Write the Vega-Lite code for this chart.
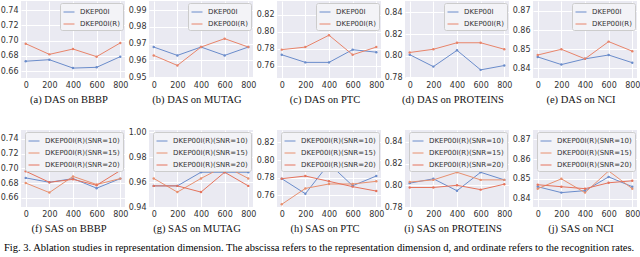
{
  "$schema": "https://vega.github.io/schema/vega-lite/v6.json",
  "padding": {"left": 0, "top": 1, "right": 0, "bottom": 0},
  "background": "white",
  "data": {"values": [
    {"p":"a","s":"DKEP00I","d":0,"v":0.673},{"p":"a","s":"DKEP00I","d":200,"v":0.675},{"p":"a","s":"DKEP00I","d":400,"v":0.664},{"p":"a","s":"DKEP00I","d":600,"v":0.665},{"p":"a","s":"DKEP00I","d":800,"v":0.679},
    {"p":"a","s":"DKEP00I(R)","d":0,"v":0.696},{"p":"a","s":"DKEP00I(R)","d":200,"v":0.682},{"p":"a","s":"DKEP00I(R)","d":400,"v":0.689},{"p":"a","s":"DKEP00I(R)","d":600,"v":0.679},{"p":"a","s":"DKEP00I(R)","d":800,"v":0.697},
    {"p":"b","s":"DKEP00I","d":0,"v":0.968},{"p":"b","s":"DKEP00I","d":200,"v":0.963},{"p":"b","s":"DKEP00I","d":400,"v":0.968},{"p":"b","s":"DKEP00I","d":600,"v":0.963},{"p":"b","s":"DKEP00I","d":800,"v":0.968},
    {"p":"b","s":"DKEP00I(R)","d":0,"v":0.963},{"p":"b","s":"DKEP00I(R)","d":200,"v":0.957},{"p":"b","s":"DKEP00I(R)","d":400,"v":0.968},{"p":"b","s":"DKEP00I(R)","d":600,"v":0.973},{"p":"b","s":"DKEP00I(R)","d":800,"v":0.968},
    {"p":"c","s":"DKEP00I","d":0,"v":0.773},{"p":"c","s":"DKEP00I","d":200,"v":0.764},{"p":"c","s":"DKEP00I","d":400,"v":0.764},{"p":"c","s":"DKEP00I","d":600,"v":0.779},{"p":"c","s":"DKEP00I","d":800,"v":0.776},
    {"p":"c","s":"DKEP00I(R)","d":0,"v":0.779},{"p":"c","s":"DKEP00I(R)","d":200,"v":0.782},{"p":"c","s":"DKEP00I(R)","d":400,"v":0.796},{"p":"c","s":"DKEP00I(R)","d":600,"v":0.773},{"p":"c","s":"DKEP00I(R)","d":800,"v":0.782},
    {"p":"d","s":"DKEP00I","d":0,"v":0.801},{"p":"d","s":"DKEP00I","d":200,"v":0.790},{"p":"d","s":"DKEP00I","d":400,"v":0.805},{"p":"d","s":"DKEP00I","d":600,"v":0.787},{"p":"d","s":"DKEP00I","d":800,"v":0.791},
    {"p":"d","s":"DKEP00I(R)","d":0,"v":0.803},{"p":"d","s":"DKEP00I(R)","d":200,"v":0.806},{"p":"d","s":"DKEP00I(R)","d":400,"v":0.812},{"p":"d","s":"DKEP00I(R)","d":600,"v":0.812},{"p":"d","s":"DKEP00I(R)","d":800,"v":0.806},
    {"p":"e","s":"DKEP00I","d":0,"v":0.846},{"p":"e","s":"DKEP00I","d":200,"v":0.842},{"p":"e","s":"DKEP00I","d":400,"v":0.845},{"p":"e","s":"DKEP00I","d":600,"v":0.847},{"p":"e","s":"DKEP00I","d":800,"v":0.843},
    {"p":"e","s":"DKEP00I(R)","d":0,"v":0.847},{"p":"e","s":"DKEP00I(R)","d":200,"v":0.850},{"p":"e","s":"DKEP00I(R)","d":400,"v":0.845},{"p":"e","s":"DKEP00I(R)","d":600,"v":0.854},{"p":"e","s":"DKEP00I(R)","d":800,"v":0.849},
    {"p":"f","s":"DKEP00I(R)(SNR=10)","d":0,"v":0.687},{"p":"f","s":"DKEP00I(R)(SNR=10)","d":200,"v":0.681},{"p":"f","s":"DKEP00I(R)(SNR=10)","d":400,"v":0.686},{"p":"f","s":"DKEP00I(R)(SNR=10)","d":600,"v":0.673},{"p":"f","s":"DKEP00I(R)(SNR=10)","d":800,"v":0.686},
    {"p":"f","s":"DKEP00I(R)(SNR=15)","d":0,"v":0.680},{"p":"f","s":"DKEP00I(R)(SNR=15)","d":200,"v":0.667},{"p":"f","s":"DKEP00I(R)(SNR=15)","d":400,"v":0.689},{"p":"f","s":"DKEP00I(R)(SNR=15)","d":600,"v":0.678},{"p":"f","s":"DKEP00I(R)(SNR=15)","d":800,"v":0.686},
    {"p":"f","s":"DKEP00I(R)(SNR=20)","d":0,"v":0.696},{"p":"f","s":"DKEP00I(R)(SNR=20)","d":200,"v":0.681},{"p":"f","s":"DKEP00I(R)(SNR=20)","d":400,"v":0.685},{"p":"f","s":"DKEP00I(R)(SNR=20)","d":600,"v":0.677},{"p":"f","s":"DKEP00I(R)(SNR=20)","d":800,"v":0.697},
    {"p":"g","s":"DKEP00I(R)(SNR=10)","d":0,"v":0.957},{"p":"g","s":"DKEP00I(R)(SNR=10)","d":200,"v":0.957},{"p":"g","s":"DKEP00I(R)(SNR=10)","d":400,"v":0.968},{"p":"g","s":"DKEP00I(R)(SNR=10)","d":600,"v":0.968},{"p":"g","s":"DKEP00I(R)(SNR=10)","d":800,"v":0.968},
    {"p":"g","s":"DKEP00I(R)(SNR=15)","d":0,"v":0.963},{"p":"g","s":"DKEP00I(R)(SNR=15)","d":200,"v":0.952},{"p":"g","s":"DKEP00I(R)(SNR=15)","d":400,"v":0.963},{"p":"g","s":"DKEP00I(R)(SNR=15)","d":600,"v":0.973},{"p":"g","s":"DKEP00I(R)(SNR=15)","d":800,"v":0.963},
    {"p":"g","s":"DKEP00I(R)(SNR=20)","d":0,"v":0.957},{"p":"g","s":"DKEP00I(R)(SNR=20)","d":200,"v":0.957},{"p":"g","s":"DKEP00I(R)(SNR=20)","d":400,"v":0.952},{"p":"g","s":"DKEP00I(R)(SNR=20)","d":600,"v":0.968},{"p":"g","s":"DKEP00I(R)(SNR=20)","d":800,"v":0.957},
    {"p":"h","s":"DKEP00I(R)(SNR=10)","d":0,"v":0.779},{"p":"h","s":"DKEP00I(R)(SNR=10)","d":200,"v":0.762},{"p":"h","s":"DKEP00I(R)(SNR=10)","d":400,"v":0.796},{"p":"h","s":"DKEP00I(R)(SNR=10)","d":600,"v":0.771},{"p":"h","s":"DKEP00I(R)(SNR=10)","d":800,"v":0.782},
    {"p":"h","s":"DKEP00I(R)(SNR=15)","d":0,"v":0.750},{"p":"h","s":"DKEP00I(R)(SNR=15)","d":200,"v":0.768},{"p":"h","s":"DKEP00I(R)(SNR=15)","d":400,"v":0.773},{"p":"h","s":"DKEP00I(R)(SNR=15)","d":600,"v":0.773},{"p":"h","s":"DKEP00I(R)(SNR=15)","d":800,"v":0.776},
    {"p":"h","s":"DKEP00I(R)(SNR=20)","d":0,"v":0.779},{"p":"h","s":"DKEP00I(R)(SNR=20)","d":200,"v":0.782},{"p":"h","s":"DKEP00I(R)(SNR=20)","d":400,"v":0.776},{"p":"h","s":"DKEP00I(R)(SNR=20)","d":600,"v":0.770},{"p":"h","s":"DKEP00I(R)(SNR=20)","d":800,"v":0.765},
    {"p":"i","s":"DKEP00I(R)(SNR=10)","d":0,"v":0.802},{"p":"i","s":"DKEP00I(R)(SNR=10)","d":200,"v":0.806},{"p":"i","s":"DKEP00I(R)(SNR=10)","d":400,"v":0.795},{"p":"i","s":"DKEP00I(R)(SNR=10)","d":600,"v":0.812},{"p":"i","s":"DKEP00I(R)(SNR=10)","d":800,"v":0.805},
    {"p":"i","s":"DKEP00I(R)(SNR=15)","d":0,"v":0.803},{"p":"i","s":"DKEP00I(R)(SNR=15)","d":200,"v":0.805},{"p":"i","s":"DKEP00I(R)(SNR=15)","d":400,"v":0.812},{"p":"i","s":"DKEP00I(R)(SNR=15)","d":600,"v":0.805},{"p":"i","s":"DKEP00I(R)(SNR=15)","d":800,"v":0.805},
    {"p":"i","s":"DKEP00I(R)(SNR=20)","d":0,"v":0.798},{"p":"i","s":"DKEP00I(R)(SNR=20)","d":200,"v":0.798},{"p":"i","s":"DKEP00I(R)(SNR=20)","d":400,"v":0.800},{"p":"i","s":"DKEP00I(R)(SNR=20)","d":600,"v":0.796},{"p":"i","s":"DKEP00I(R)(SNR=20)","d":800,"v":0.801},
    {"p":"j","s":"DKEP00I(R)(SNR=10)","d":0,"v":0.846},{"p":"j","s":"DKEP00I(R)(SNR=10)","d":200,"v":0.843},{"p":"j","s":"DKEP00I(R)(SNR=10)","d":400,"v":0.844},{"p":"j","s":"DKEP00I(R)(SNR=10)","d":600,"v":0.851},{"p":"j","s":"DKEP00I(R)(SNR=10)","d":800,"v":0.846},
    {"p":"j","s":"DKEP00I(R)(SNR=15)","d":0,"v":0.845},{"p":"j","s":"DKEP00I(R)(SNR=15)","d":200,"v":0.850},{"p":"j","s":"DKEP00I(R)(SNR=15)","d":400,"v":0.843},{"p":"j","s":"DKEP00I(R)(SNR=15)","d":600,"v":0.854},{"p":"j","s":"DKEP00I(R)(SNR=15)","d":800,"v":0.845},
    {"p":"j","s":"DKEP00I(R)(SNR=20)","d":0,"v":0.847},{"p":"j","s":"DKEP00I(R)(SNR=20)","d":200,"v":0.846},{"p":"j","s":"DKEP00I(R)(SNR=20)","d":400,"v":0.845},{"p":"j","s":"DKEP00I(R)(SNR=20)","d":600,"v":0.848},{"p":"j","s":"DKEP00I(R)(SNR=20)","d":800,"v":0.849}
  ]},
  "title": {"text": "Fig. 3.   Ablation studies in representation dimension. The abscissa refers to the representation dimension d, and ordinate refers to the recognition rates.", "orient": "bottom", "anchor": "start", "frame": "bounds", "font": "Liberation Serif", "fontSize": 10.5, "fontWeight": "normal", "color": "black", "offset": 8, "dx": 4},
  "bounds": "full",
  "spacing": 22,
  "resolve": {"scale": {"color": "independent", "y": "independent", "x": "independent"}, "legend": {"color": "independent"}},
  "vconcat": [
    {
      "bounds": "flush",
      "spacing": 24,
      "resolve": {"scale": {"color": "independent", "y": "independent", "x": "independent"}, "legend": {"color": "independent"}},
      "hconcat": [
        {"width": 104, "height": 77, "title": {"text": "(a) DAS on BBBP"}, "transform": [{"filter": "datum.p == 'a'"}],
         "mark": {"type": "line", "strokeWidth": 1, "point": {"filled": true, "size": 6}},
         "encoding": {
           "x": {"field": "d", "type": "quantitative", "scale": {"domain": [-40, 840], "nice": false, "zero": false}, "axis": {"values": [0,200,400,600,800], "title": null}},
           "y": {"field": "v", "type": "quantitative", "scale": {"domain": [0.651, 0.752], "nice": false, "zero": false}, "axis": {"values": [0.66,0.68,0.70,0.72,0.74], "format": ".2f", "title": null}},
           "color": {"field": "s", "type": "nominal", "scale": {"domain": ["DKEP00I","DKEP00I(R)"], "range": ["#6A8CCB","#E8846A"]}, "legend": {"title": null}}
         }},
        {"width": 104, "height": 77, "title": {"text": "(b) DAS on MUTAG"}, "transform": [{"filter": "datum.p == 'b'"}],
         "mark": {"type": "line", "strokeWidth": 1, "point": {"filled": true, "size": 6}},
         "encoding": {
           "x": {"field": "d", "type": "quantitative", "scale": {"domain": [-40, 840], "nice": false, "zero": false}, "axis": {"values": [0,200,400,600,800], "title": null}},
           "y": {"field": "v", "type": "quantitative", "scale": {"domain": [0.9495, 0.9955], "nice": false, "zero": false}, "axis": {"values": [0.95,0.96,0.97,0.98,0.99], "format": ".2f", "title": null}},
           "color": {"field": "s", "type": "nominal", "scale": {"domain": ["DKEP00I","DKEP00I(R)"], "range": ["#6A8CCB","#E8846A"]}, "legend": {"title": null}}
         }},
        {"width": 104, "height": 77, "title": {"text": "(c) DAS on PTC"}, "transform": [{"filter": "datum.p == 'c'"}],
         "mark": {"type": "line", "strokeWidth": 1, "point": {"filled": true, "size": 6}},
         "encoding": {
           "x": {"field": "d", "type": "quantitative", "scale": {"domain": [-40, 840], "nice": false, "zero": false}, "axis": {"values": [0,200,400,600,800], "title": null}},
           "y": {"field": "v", "type": "quantitative", "scale": {"domain": [0.7456, 0.8363], "nice": false, "zero": false}, "axis": {"values": [0.76,0.78,0.80,0.82], "format": ".2f", "title": null}},
           "color": {"field": "s", "type": "nominal", "scale": {"domain": ["DKEP00I","DKEP00I(R)"], "range": ["#6A8CCB","#E8846A"]}, "legend": {"title": null}}
         }},
        {"width": 104, "height": 77, "title": {"text": "(d) DAS on PROTEINS"}, "transform": [{"filter": "datum.p == 'd'"}],
         "mark": {"type": "line", "strokeWidth": 1, "point": {"filled": true, "size": 6}},
         "encoding": {
           "x": {"field": "d", "type": "quantitative", "scale": {"domain": [-40, 840], "nice": false, "zero": false}, "axis": {"values": [0,200,400,600,800], "title": null}},
           "y": {"field": "v", "type": "quantitative", "scale": {"domain": [0.7795, 0.8505], "nice": false, "zero": false}, "axis": {"values": [0.78,0.80,0.82,0.84], "format": ".2f", "title": null}},
           "color": {"field": "s", "type": "nominal", "scale": {"domain": ["DKEP00I","DKEP00I(R)"], "range": ["#6A8CCB","#E8846A"]}, "legend": {"title": null}}
         }},
        {"width": 104, "height": 77, "title": {"text": "(e) DAS on NCI"}, "transform": [{"filter": "datum.p == 'e'"}],
         "mark": {"type": "line", "strokeWidth": 1, "point": {"filled": true, "size": 6}},
         "encoding": {
           "x": {"field": "d", "type": "quantitative", "scale": {"domain": [-40, 840], "nice": false, "zero": false}, "axis": {"values": [0,200,400,600,800], "title": null}},
           "y": {"field": "v", "type": "quantitative", "scale": {"domain": [0.835, 0.8752], "nice": false, "zero": false}, "axis": {"values": [0.84,0.85,0.86,0.87], "format": ".2f", "title": null}},
           "color": {"field": "s", "type": "nominal", "scale": {"domain": ["DKEP00I","DKEP00I(R)"], "range": ["#6A8CCB","#E8846A"]}, "legend": {"title": null}}
         }}
      ]
    },
    {
      "bounds": "flush",
      "spacing": 24,
      "resolve": {"scale": {"color": "independent", "y": "independent", "x": "independent"}, "legend": {"color": "independent"}},
      "hconcat": [
        {"width": 104, "height": 77, "title": {"text": "(f) SAS on BBBP"}, "transform": [{"filter": "datum.p == 'f'"}],
         "mark": {"type": "line", "strokeWidth": 1, "point": {"filled": true, "size": 6}},
         "encoding": {
           "x": {"field": "d", "type": "quantitative", "scale": {"domain": [-40, 840], "nice": false, "zero": false}, "axis": {"values": [0,200,400,600,800], "title": null}},
           "y": {"field": "v", "type": "quantitative", "scale": {"domain": [0.6474, 0.7521], "nice": false, "zero": false}, "axis": {"values": [0.66,0.68,0.70,0.72,0.74], "format": ".2f", "title": null}},
           "color": {"field": "s", "type": "nominal", "scale": {"domain": ["DKEP00I(R)(SNR=10)","DKEP00I(R)(SNR=15)","DKEP00I(R)(SNR=20)"], "range": ["#6A8CCB","#E8906F","#E5735C"]}, "legend": {"title": null}}
         }},
        {"width": 104, "height": 77, "title": {"text": "(g) SAS on MUTAG"}, "transform": [{"filter": "datum.p == 'g'"}],
         "mark": {"type": "line", "strokeWidth": 1, "point": {"filled": true, "size": 6}},
         "encoding": {
           "x": {"field": "d", "type": "quantitative", "scale": {"domain": [-40, 840], "nice": false, "zero": false}, "axis": {"values": [0,200,400,600,800], "title": null}},
           "y": {"field": "v", "type": "quantitative", "scale": {"domain": [0.94, 1.002], "nice": false, "zero": false}, "axis": {"values": [0.94,0.96,0.98,1.00], "format": ".2f", "title": null}},
           "color": {"field": "s", "type": "nominal", "scale": {"domain": ["DKEP00I(R)(SNR=10)","DKEP00I(R)(SNR=15)","DKEP00I(R)(SNR=20)"], "range": ["#6A8CCB","#E8906F","#E5735C"]}, "legend": {"title": null}}
         }},
        {"width": 104, "height": 77, "title": {"text": "(h) SAS on PTC"}, "transform": [{"filter": "datum.p == 'h'"}],
         "mark": {"type": "line", "strokeWidth": 1, "point": {"filled": true, "size": 6}},
         "encoding": {
           "x": {"field": "d", "type": "quantitative", "scale": {"domain": [-40, 840], "nice": false, "zero": false}, "axis": {"values": [0,200,400,600,800], "title": null}},
           "y": {"field": "v", "type": "quantitative", "scale": {"domain": [0.747, 0.834], "nice": false, "zero": false}, "axis": {"values": [0.76,0.78,0.80,0.82], "format": ".2f", "title": null}},
           "color": {"field": "s", "type": "nominal", "scale": {"domain": ["DKEP00I(R)(SNR=10)","DKEP00I(R)(SNR=15)","DKEP00I(R)(SNR=20)"], "range": ["#6A8CCB","#E8906F","#E5735C"]}, "legend": {"title": null}}
         }},
        {"width": 104, "height": 77, "title": {"text": "(i) SAS on PROTEINS"}, "transform": [{"filter": "datum.p == 'i'"}],
         "mark": {"type": "line", "strokeWidth": 1, "point": {"filled": true, "size": 6}},
         "encoding": {
           "x": {"field": "d", "type": "quantitative", "scale": {"domain": [-40, 840], "nice": false, "zero": false}, "axis": {"values": [0,200,400,600,800], "title": null}},
           "y": {"field": "v", "type": "quantitative", "scale": {"domain": [0.78, 0.851], "nice": false, "zero": false}, "axis": {"values": [0.78,0.80,0.82,0.84], "format": ".2f", "title": null}},
           "color": {"field": "s", "type": "nominal", "scale": {"domain": ["DKEP00I(R)(SNR=10)","DKEP00I(R)(SNR=15)","DKEP00I(R)(SNR=20)"], "range": ["#6A8CCB","#E8906F","#E5735C"]}, "legend": {"title": null}}
         }},
        {"width": 104, "height": 77, "title": {"text": "(j) SAS on NCI"}, "transform": [{"filter": "datum.p == 'j'"}],
         "mark": {"type": "line", "strokeWidth": 1, "point": {"filled": true, "size": 6}},
         "encoding": {
           "x": {"field": "d", "type": "quantitative", "scale": {"domain": [-40, 840], "nice": false, "zero": false}, "axis": {"values": [0,200,400,600,800], "title": null}},
           "y": {"field": "v", "type": "quantitative", "scale": {"domain": [0.8357, 0.8748], "nice": false, "zero": false}, "axis": {"values": [0.84,0.85,0.86,0.87], "format": ".2f", "title": null}},
           "color": {"field": "s", "type": "nominal", "scale": {"domain": ["DKEP00I(R)(SNR=10)","DKEP00I(R)(SNR=15)","DKEP00I(R)(SNR=20)"], "range": ["#6A8CCB","#E8906F","#E5735C"]}, "legend": {"title": null}}
         }}
      ]
    }
  ],
  "config": {
    "view": {"fill": "#EAEAF2", "stroke": null},
    "axis": {"grid": true, "gridColor": "#FFFFFF", "gridWidth": 1, "domain": false, "ticks": false, "labelFont": "DejaVu Sans", "labelFontSize": 8, "labelColor": "#333333", "labelPadding": 3},
    "axisY": {"minExtent": 21, "maxExtent": 21},
    "legend": {"orient": "top-right", "offset": 2, "labelFont": "DejaVu Sans", "labelFontSize": 7, "labelColor": "#333333", "fillColor": "#F3F3F7", "strokeColor": "#CCCCCC", "cornerRadius": 2, "padding": 3, "symbolType": "stroke", "symbolSize": 121, "symbolStrokeWidth": 1, "rowPadding": 3, "labelOffset": 5},
    "title": {"orient": "bottom", "anchor": "middle", "frame": "group", "font": "Liberation Serif", "fontSize": 10.5, "fontWeight": "normal", "color": "#111111", "offset": 6, "dx": -4}
  }
}
